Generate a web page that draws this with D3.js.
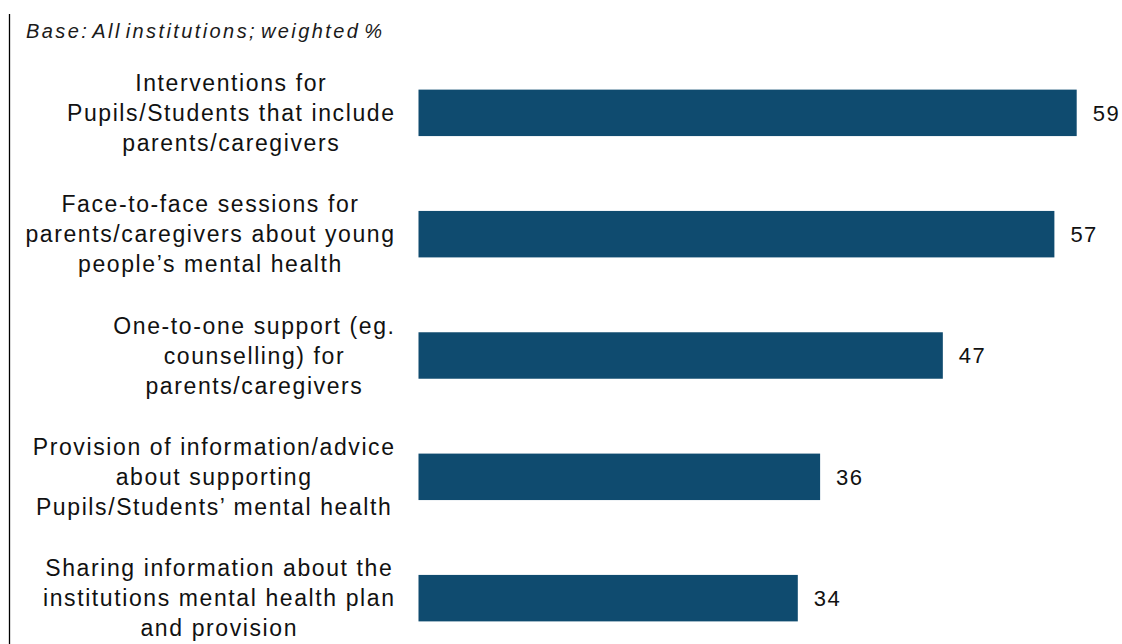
<!DOCTYPE html>
<html><head><meta charset="utf-8">
<script src="https://cdn.jsdelivr.net/npm/d3@7"></script>
<style>body{margin:0;background:#fff;}svg{display:block;}</style>
</head><body>
<svg id="c" width="1122" height="644"></svg>
<script>
const categories = [
  ["Interventions for", "Pupils/Students that include", "parents/caregivers"],
  ["Face-to-face sessions for", "parents/caregivers about young", "people\u2019s mental health"],
  ["One-to-one support (eg.", "counselling) for", "parents/caregivers"],
  ["Provision of information/advice", "about supporting", "Pupils/Students\u2019 mental health"],
  ["Sharing information about the", "institutions mental health plan", "and provision"]
];
const values = [59, 57, 47, 36, 34];
const baseText = "Base: All institutions; weighted %";

const svg = d3.select("#c");
const font = "Arial, 'Liberation Sans', sans-serif";
const x = d3.scaleLinear().domain([0, 59]).range([418.5, 1076.7]);
const y = d3.scaleBand().domain(d3.range(values.length)).range([52, 659]).paddingInner(0.617).paddingOuter(0.31);

svg.append("line").attr("x1", 9.5).attr("x2", 9.5).attr("y1", 14).attr("y2", 644)
  .attr("stroke", "#000").attr("stroke-width", 1.3);

svg.append("text").attr("x", 26).attr("y", 38).attr("font-family", font)
  .attr("font-style", "italic").attr("font-size", 20).attr("letter-spacing", 2.4)
  .attr("word-spacing", -4).attr("fill", "#1a1a1a").text(baseText);

const g = svg.append("g");
g.selectAll("rect").data(values).join("rect")
  .attr("x", x(0)).attr("y", (d, i) => y(i))
  .attr("width", d => x(d) - x(0)).attr("height", y.bandwidth())
  .attr("fill", "#0f4b6f");

g.selectAll("text.v").data(values).join("text").attr("class", "v")
  .attr("x", d => x(d) + 16).attr("y", (d, i) => y(i) + y.bandwidth() / 2)
  .attr("dy", "0.36em").attr("font-family", font).attr("font-size", 22)
  .attr("letter-spacing", 1.5).attr("fill", "#111")
  .text(d => d);

const ls = 1.6;
categories.forEach((lines, i) => {
  const cy = y(i) + y.bandwidth() / 2;
  const t = svg.append("text").attr("font-family", font).attr("font-size", 23)
    .attr("letter-spacing", ls).attr("fill", "#111");
  const spans = lines.map((l, k) => t.append("tspan").attr("y", cy + (k - 1) * 30).attr("dy", "0.36em").text(l));
  const widths = spans.map(s => s.node().getComputedTextLength() - ls);
  const w = Math.max(...widths);
  const right = 394;
  spans.forEach(s => s.attr("x", right - w / 2).attr("text-anchor", "middle").attr("dx", ls / 2));
});
</script>
</body></html>
